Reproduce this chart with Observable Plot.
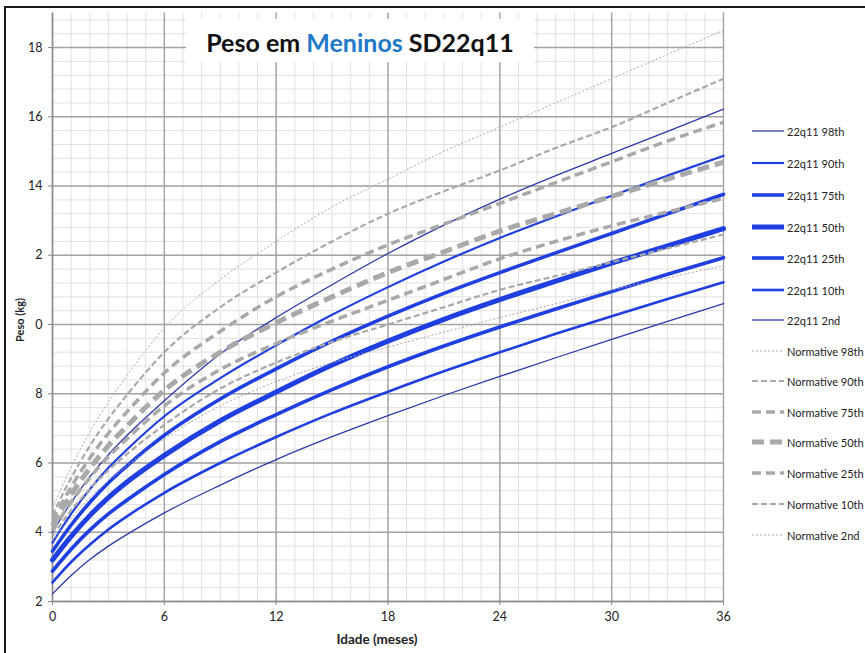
<!DOCTYPE html>
<html>
<head>
<meta charset="utf-8">
<script src="https://cdn.jsdelivr.net/npm/d3@7"></script>
<script src="https://cdn.jsdelivr.net/npm/@observablehq/plot@0.6"></script>
<style>
  html, body { margin: 0; padding: 0; background: #fff; }
  #wrap { position: relative; width: 865px; height: 653px; overflow: hidden;
          font-family: Lato, "Open Sans", sans-serif; color: #222; }
  #frame { position: absolute; left: 4px; top: 6px; width: 900px; height: 700px;
           border-top: 2px solid #1a1a1a; border-left: 2px solid #1a1a1a; }
  #chart { position: absolute; left: 0; top: 0; }
  #title { position: absolute; left: 186px; top: 19px; width: 348px; height: 43px; background: #fff;
           font-family: Lato, sans-serif; font-weight: 700; font-size: 25px; color: #111;
           text-align: center; line-height: 46px; white-space: nowrap; }
  #title .blue { color: #1f78c8; }
  #xlabel { position: absolute; left: 300px; width: 154px; top: 631px; text-align: center;
            font-family: Lato, sans-serif; font-weight: 700; font-size: 13.5px; color: #222; }
  #ylabel { position: absolute; left: 19px; top: 320px; transform: translate(-50%, -50%) rotate(-90deg);
            font-family: Lato, sans-serif; font-weight: 700; font-size: 11px; color: #222; white-space: nowrap; }
  .leg { position: absolute; left: 752px; height: 16px; display: flex; align-items: center;
         font-size: 11px; white-space: nowrap; color: #222; }
  .leg svg { display: block; margin-right: 3px; }
</style>
</head>
<body>
<div id="wrap">
  <div id="chart"></div>
  <div id="frame"></div>
  <div id="title">Peso em <span class="blue">Meninos</span> SD22q11</div>
  <div id="xlabel">Idade (meses)</div>
  <div id="ylabel">Peso (kg)</div>
</div>
<script>
// Age in months at which each curve is sampled
const months = [0, 1, 2, 3, 4, 6, 9, 12, 15, 18, 21, 24, 27, 30, 33, 36];

// 22q11.2 deletion syndrome, boys: weight percentiles (kg)
const q98 = [4.0, 4.86, 5.6, 6.24, 6.8, 7.8, 9.15, 10.2, 11.15, 12.05, 12.87, 13.62, 14.3, 14.94, 15.58, 16.22];
const q90 = [3.7, 4.53, 5.24, 5.86, 6.39, 7.35, 8.45, 9.4, 10.28, 11.08, 11.82, 12.5, 13.12, 13.72, 14.3, 14.87];
const q75 = [3.45, 4.21, 4.86, 5.43, 5.92, 6.8, 7.85, 8.72, 9.52, 10.24, 10.9, 11.5, 12.07, 12.63, 13.2, 13.76];
const q50 = [3.2, 3.88, 4.48, 5.0, 5.45, 6.22, 7.22, 8.05, 8.83, 9.52, 10.15, 10.72, 11.25, 11.77, 12.27, 12.77];
const q25 = [2.88, 3.51, 4.06, 4.53, 4.93, 5.67, 6.62, 7.4, 8.12, 8.78, 9.38, 9.93, 10.45, 10.95, 11.45, 11.93];
const q10 = [2.55, 3.14, 3.64, 4.08, 4.46, 5.14, 6.0, 6.75, 7.44, 8.06, 8.65, 9.2, 9.73, 10.24, 10.74, 11.22];
const q02 = [2.22, 2.75, 3.21, 3.6, 3.94, 4.56, 5.36, 6.1, 6.76, 7.37, 7.95, 8.5, 9.04, 9.57, 10.09, 10.6];

// Normative reference, boys: weight percentiles (kg)
const n98 = [4.7, 5.88, 6.89, 7.77, 8.53, 9.9, 11.3, 12.4, 13.4, 14.2, 15.0, 15.7, 16.4, 17.1, 17.8, 18.5];
const n90 = [4.5, 5.57, 6.49, 7.28, 7.97, 9.2, 10.5, 11.5, 12.4, 13.2, 13.85, 14.45, 15.1, 15.7, 16.4, 17.1];
const n75 = [4.35, 5.31, 6.14, 6.86, 7.48, 8.6, 9.8, 10.8, 11.6, 12.3, 12.9, 13.5, 14.1, 14.7, 15.3, 15.84];
const n50 = [4.2, 5.09, 5.85, 6.5, 7.07, 8.1, 9.2, 10.05, 10.8, 11.5, 12.1, 12.7, 13.2, 13.7, 14.2, 14.69];
const n25 = [4.05, 4.87, 5.57, 6.18, 6.7, 7.65, 8.7, 9.45, 10.1, 10.7, 11.3, 11.9, 12.4, 12.85, 13.25, 13.64];
const n10 = [3.9, 4.63, 5.25, 5.79, 6.26, 7.1, 8.15, 8.9, 9.5, 10.0, 10.5, 11.0, 11.4, 11.8, 12.2, 12.6];
const n02 = [3.75, 4.42, 4.99, 5.49, 5.92, 6.7, 7.65, 8.35, 8.9, 9.35, 9.78, 10.2, 10.6, 11.0, 11.35, 11.7];

// Axis ticks and labels
const xTicks = [0, 6, 12, 18, 24, 30, 36];
const yTicks = [2, 4, 6, 8, 10, 12, 14, 16, 18];
const yTickLabels = ["2", "4", "6", "8", "0", "2", "14", "16", "18"];

// Series drawing styles
const BLUE = "#1f3fe0", NAVY = "#2b3aa8", GREY = "#a9a9a9";
const series = [
  { name: "22q11 98th", values: q98, stroke: NAVY, width: 1.3, dash: null },
  { name: "22q11 90th", values: q90, stroke: BLUE, width: 2.2, dash: null },
  { name: "22q11 75th", values: q75, stroke: BLUE, width: 3.6, dash: null },
  { name: "22q11 50th", values: q50, stroke: BLUE, width: 5, dash: null },
  { name: "22q11 25th", values: q25, stroke: BLUE, width: 3.6, dash: null },
  { name: "22q11 10th", values: q10, stroke: BLUE, width: 2.6, dash: null },
  { name: "22q11 2nd", values: q02, stroke: NAVY, width: 1.3, dash: null },
  { name: "Normative 98th", values: n98, stroke: GREY, width: 1, dash: "2,2" },
  { name: "Normative 90th", values: n90, stroke: GREY, width: 2.2, dash: "6,3" },
  { name: "Normative 75th", values: n75, stroke: GREY, width: 3.5, dash: "9,5" },
  { name: "Normative 50th", values: n50, stroke: GREY, width: 5, dash: "12,6" },
  { name: "Normative 25th", values: n25, stroke: GREY, width: 3.5, dash: "9,5" },
  { name: "Normative 10th", values: n10, stroke: GREY, width: 2.2, dash: "6,3" },
  { name: "Normative 2nd", values: n02, stroke: GREY, width: 1, dash: "2,2" }
];

// Grid: a line per month and per 0.4 kg, stronger every 6 months / 2 kg
const minorX = d3.range(0, 37);
const minorY = d3.range(0, 43).map(i => 2 + i * 0.4);

const lineMarks = series.map(s =>
  Plot.line(months.map((m, i) => ({ month: m, kg: s.values[i] })), {
    x: "month", y: "kg", curve: "monotone-x",
    stroke: s.stroke, strokeWidth: s.width, strokeDasharray: s.dash,
    strokeLinecap: s.dash ? "butt" : "round"
  })
);

const chart = Plot.plot({
  width: 865,
  height: 653,
  marginLeft: 52,
  marginRight: 142,
  marginTop: 12.4,
  marginBottom: 52,
  style: { fontFamily: 'Lato, "Open Sans", sans-serif', fontSize: "12.5px", color: "#222", background: "transparent" },
  x: { domain: [0, 36] },
  y: { domain: [2, 19] },
  marks: [
    Plot.ruleX(minorX, { stroke: "#e1e1e1", strokeWidth: 1 }),
    Plot.ruleY(minorY, { stroke: "#e1e1e1", strokeWidth: 1 }),
    Plot.ruleX(xTicks, { stroke: "#a3a3a3", strokeWidth: 1.4 }),
    Plot.ruleY(yTicks, { stroke: "#a3a3a3", strokeWidth: 1.4 }),
    Plot.axisX({ ticks: xTicks, tickSize: 4, tickPadding: 7, stroke: "#888", label: null, fontSize: 12.5 }),
    Plot.axisY({ ticks: yTicks, tickSize: 4, tickPadding: 6, stroke: "#888", label: null, fontSize: 12.5,
                 tickFormat: d => yTickLabels[yTicks.indexOf(d)] }),
    Plot.ruleY([2], { stroke: "#8c8c8c", strokeWidth: 1.5 }),
    Plot.ruleX([0], { stroke: "#8c8c8c", strokeWidth: 1.5 }),
    ...lineMarks
  ]
});
document.getElementById("chart").appendChild(chart);

// Legend to the right of the plot
const legendTop = [131, 163, 195, 227, 258, 290, 320, 351, 381, 412, 442, 473, 504, 535];
const wrap = document.getElementById("wrap");
series.forEach((s, i) => {
  const row = document.createElement("div");
  row.className = "leg";
  row.style.top = (legendTop[i] - 8) + "px";
  const dash = s.dash ? ` stroke-dasharray="${s.dash}"` : "";
  row.innerHTML = `<svg width="32" height="10"><line x1="0" y1="5" x2="32" y2="5" stroke="${s.stroke}" stroke-width="${s.width}"${dash}/></svg><span>${s.name}</span>`;
  wrap.appendChild(row);
});
</script>
</body>
</html>
